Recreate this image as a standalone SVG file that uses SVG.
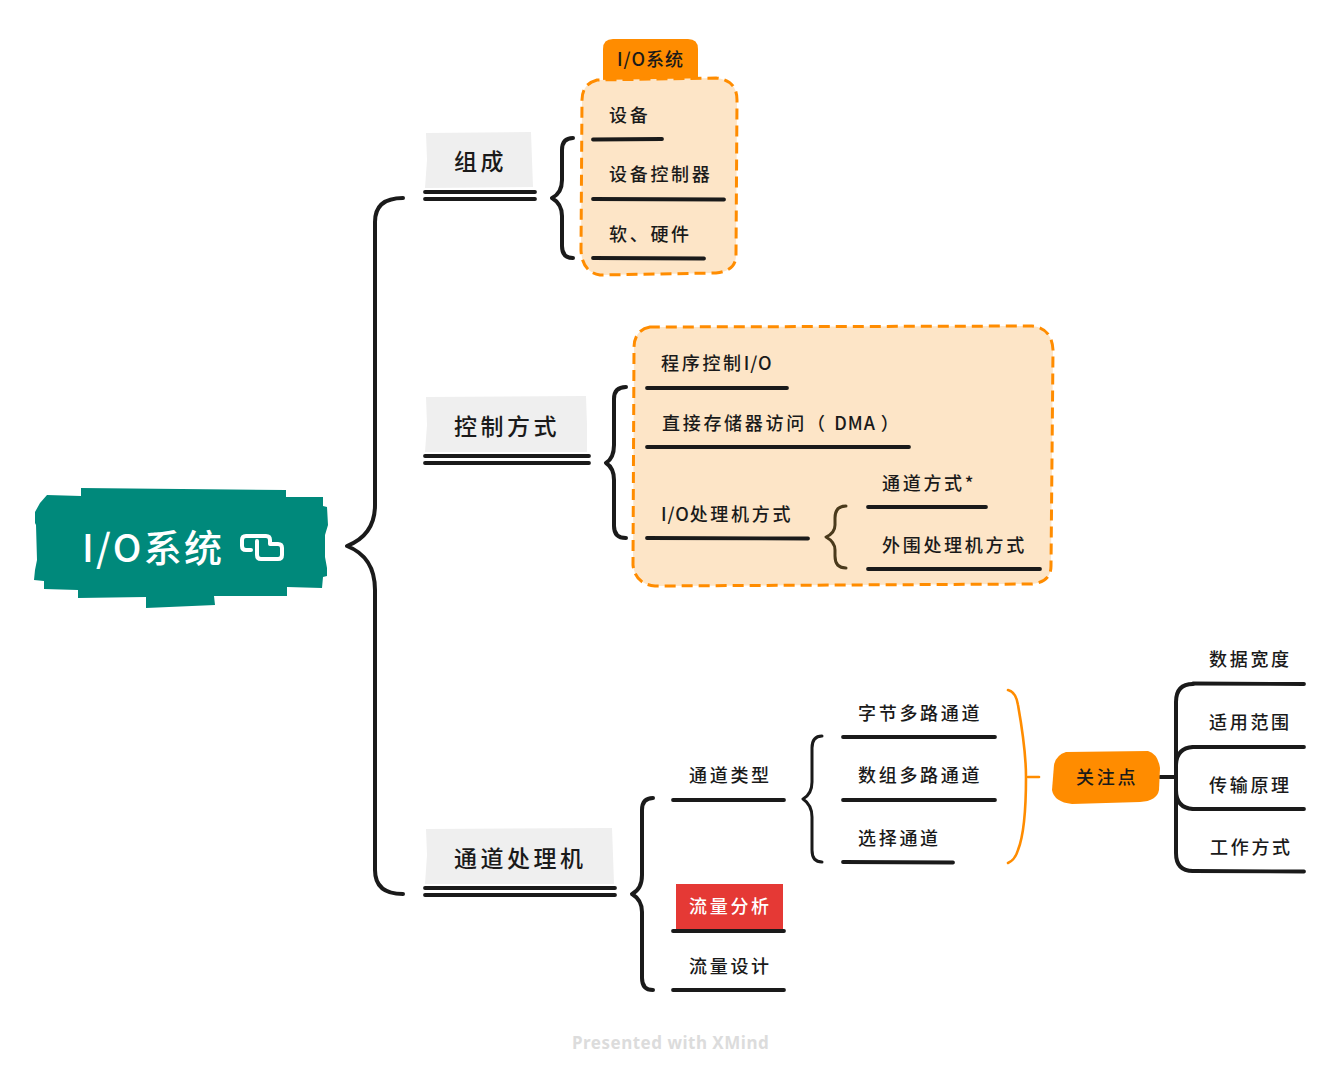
<svg xmlns="http://www.w3.org/2000/svg" width="1340" height="1080" viewBox="0 0 1340 1080">
<style>
text{font-family:"Noto Sans CJK SC","Noto Sans",sans-serif;fill:#1a1a1a;dominant-baseline:central}
.t{font-size:18px;letter-spacing:2.7px;font-weight:500}
.a{letter-spacing:.9px}
.h{font-size:23px;letter-spacing:3.5px;font-weight:500}
.ul{fill:none;stroke:#1a1a1a;stroke-width:3.8;stroke-linecap:round}
.c{fill:none;stroke:#1a1a1a;stroke-width:4;stroke-linecap:round;stroke-linejoin:round}
.g{fill:#efefef}
.box{fill:#fde5c7;stroke:#ff8c00;stroke-width:3;stroke-dasharray:11 6}
.or{fill:#ff8c00}
</style>
<g id="root">
<polygon fill="#00897b" points="81,488 286,490 286,497 323,497 323,506 327,507 328,525 325,535 325,557 327,568 327,576 323,577 322,588 287,587 287,596 214,596 215,605 146,608 146,597 78,598 78,590 44,589 44,581 34,580 35,570 37,560 36,525 35,523 35,512 40,503 47,495 81,496"/>
<text x="82" y="545" style="font-size:38px;fill:#fff;letter-spacing:2.3px;font-weight:500">I/O系统</text>
<path fill="none" stroke="#fff" stroke-width="4" stroke-linecap="round" stroke-linejoin="round" d="M251,550 H246 Q242,550 242,546 V540 Q242,536 246,536 H266 Q270,536 270,540 V544 M257,541 V555 Q257,559 261,559 H278 Q282,559 282,555 V548 Q282,544 278,544 H270"/>
</g>
<g id="zucheng">
<polygon class="g" points="426,133 531,132 532,160 533,187 425,188 427,160"/>
<text class="h" x="454" y="160">组成</text>
<path class="ul" d="M425,192 L535,192 M425,199 L535,199"/>
</g>
<g id="kongzhi">
<polygon class="g" points="426,397 586,396 587,425 587,452 425,452 427,425"/>
<text class="h" x="454" y="425">控制方式</text>
<path class="ul" d="M425,456 L589,456 M425,463 L589,463"/>
</g>
<g id="tongdaochuliji">
<polygon class="g" points="426,829 612,828 613,855 614,884 425,884 427,855"/>
<text class="h" x="454" y="857">通道处理机</text>
<path class="ul" d="M425,888 L615,888 M425,895 L615,895"/>
</g>
<g id="tag1">
<path class="or" d="M603,84 V49 Q603,39 613,39 H688 Q698,39 698,49 V84 Z"/>
<text class="t" x="617" y="58" style="letter-spacing:1px">I/O系统</text>
</g>
<g id="box1">
<path class="box" d="M597,80 Q582,84 582,100 L581,250 Q582,272 600,275 L716,273 Q736,271 736,255 L737,100 Q737,80 716,78 Z"/>
</g>
<g id="box2">
<path class="box" d="M650,327 Q634,330 634,348 L633,565 Q635,584 655,586 L1032,584 Q1051,582 1051,566 L1053,350 Q1052,328 1032,326 Z"/>
</g>
<g id="connectors">
<path class="c" d="M403,198 Q375,198 375,222 V505 Q375,535 347,546 Q375,557 375,590 V870 Q375,894 403,894"/>
<path class="c" d="M573,138 Q562,138 562,150 V180 Q562,193 552,198 Q562,204 562,216 V246 Q562,258 573,258"/>
<path class="c" d="M626,387 Q614,387 614,399 V445 Q614,458 606,463 Q614,468 614,480 V526 Q614,538 626,538"/>
<path class="c" d="M846,506 Q835,506 835,518 V525 Q835,533 826,537 Q835,542 835,550 V556 Q835,568 846,568" style="stroke:#4a3a1c;stroke-width:3"/>
<path class="c" d="M653,798 Q642,798 642,810 V875 Q642,889 632,894 Q642,900 642,912 V978 Q642,990 653,990"/>
<path class="c" d="M822,736 Q812,736 812,748 V782 Q812,794 803,799 Q812,805 812,817 V850 Q812,862 822,862" style="stroke-width:3"/>
<path class="c" d="M1008,690 Q1016,692 1018,705 Q1026,750 1026,777 Q1026,830 1018,850 Q1015,860 1008,863" style="stroke:#ff8c00;stroke-width:2.6"/>
<path class="c" d="M1028,777 H1039" style="stroke:#ff8c00;stroke-width:2.6"/>
<path class="c" d="M1160,777 H1176"/>
<path class="c" d="M1193,684 Q1176,684 1176,702 V853 Q1176,871 1193,871"/>
<path class="c" d="M1176,766 Q1176,748 1193,747"/>
<path class="c" d="M1176,790 Q1176,808 1193,809"/>
</g>
<g id="n-shebei"><text class="t" x="609" y="114">设备</text><path class="ul" d="M593,139.500 L662,139"/></g>
<g id="n-kzq"><text class="t" x="609" y="173">设备控制器</text><path class="ul" d="M593,199 L724,199.500"/></g>
<g id="n-rjyj"><text class="t" x="609" y="233">软、硬件</text><path class="ul" d="M593,258 L704,258.500"/></g>
<g id="n-cxkz"><text class="t" x="661" y="362">程序控制<tspan class="a">I/O</tspan></text><path class="ul" d="M647,388 L787,388"/></g>
<g id="n-dma"><text class="t" x="662" y="422">直接存储器访问（ <tspan class="a">DMA </tspan>）</text><path class="ul" d="M647,447 L909,447"/></g>
<g id="n-iocl"><text class="t" x="661" y="513"><tspan class="a">I/O</tspan>处理机方式</text><path class="ul" d="M647,538 L808,538.500"/></g>
<g id="n-tdfs"><text class="t" x="882" y="482">通道方式*</text><path class="ul" d="M868,507 L986,507"/></g>
<g id="n-wwcl"><text class="t" x="882" y="544">外围处理机方式</text><path class="ul" d="M868,569 L1040,569"/></g>
<g id="n-tdlx"><text class="t" x="689" y="774">通道类型</text><path class="ul" d="M673,800 L784,800"/></g>
<g id="n-llfx"><rect x="676" y="884" width="107" height="45" fill="#e53935"/><text class="t" x="689" y="905" style="fill:#fff">流量分析</text><path class="ul" d="M673,931 L784,931"/></g>
<g id="n-llsj"><text class="t" x="689" y="965">流量设计</text><path class="ul" d="M673,990 L784,990"/></g>
<g id="n-zjdl"><text class="t" x="858" y="712">字节多路通道</text><path class="ul" d="M843,737 L995,737"/></g>
<g id="n-szdl"><text class="t" x="858" y="774">数组多路通道</text><path class="ul" d="M843,800 L995,800"/></g>
<g id="n-xztd"><text class="t" x="858" y="837">选择通道</text><path class="ul" d="M843,862 L953,862.500"/></g>
<g id="n-gzd"><path class="or" d="M1066,752 L1148,751 Q1158,754 1160,768 L1159,790 Q1157,801 1140,802 L1072,804 Q1054,802 1052,790 L1054,765 Q1056,755 1066,752 Z"/><text class="t" x="1076" y="776">关注点</text></g>
<g id="n-sjkd"><text class="t" x="1209" y="658">数据宽度</text><path class="ul" d="M1193,683.500 L1304,684"/></g>
<g id="n-syfw"><text class="t" x="1209" y="721">适用范围</text><path class="ul" d="M1193,747 L1304,747"/></g>
<g id="n-cscl"><text class="t" x="1209" y="784">传输原理</text><path class="ul" d="M1193,809 L1304,809"/></g>
<g id="n-gzfs"><text class="t" x="1210" y="846">工作方式</text><path class="ul" d="M1193,871 L1304,871.500"/></g>
<text x="572" y="1042" style="font-family:'Noto Sans',sans-serif;font-size:17px;font-weight:700;fill:#dcdcdc;letter-spacing:.5px">Presented with XMind</text>
</svg>
